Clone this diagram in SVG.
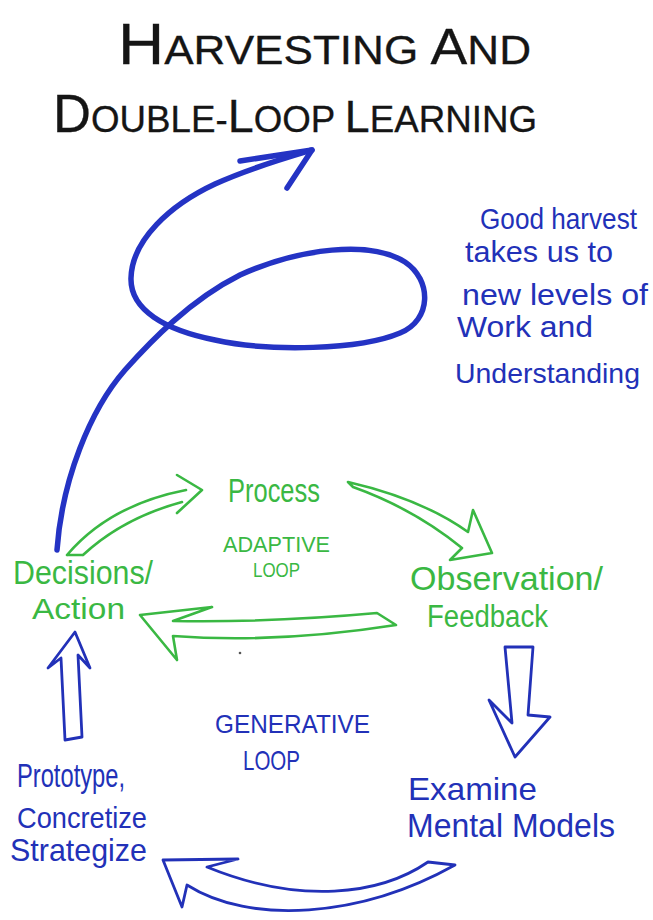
<svg xmlns="http://www.w3.org/2000/svg" width="653" height="920" viewBox="0 0 653 920">
<style>
  .title { font-family: "Liberation Sans", Arial, sans-serif; fill: #151515; stroke: #151515; stroke-width: 0.3; }
  .g { font-family: "Liberation Sans", Arial, sans-serif; fill: #3ab843; }
  .b { font-family: "Liberation Sans", Arial, sans-serif; fill: #2231b8; }
  .garrow { fill: none; stroke: #3ab843; stroke-width: 2.6; stroke-linejoin: round; stroke-linecap: round; }
  .barrow { fill: none; stroke: #2231b8; stroke-width: 2.8; stroke-linejoin: round; stroke-linecap: round; }
  .spiral { fill: none; stroke: #2433c4; stroke-width: 5.5; stroke-linecap: round; stroke-linejoin: round; }
</style>
<rect width="653" height="920" fill="#ffffff"/>

<g id="title">
  <text class="title" x="118" y="64" font-size="40" textLength="413" lengthAdjust="spacingAndGlyphs"><tspan font-size="58">H</tspan>ARVESTING <tspan font-size="50">A</tspan>ND</text>
  <text class="title" x="53" y="132" font-size="37" textLength="484" lengthAdjust="spacingAndGlyphs"><tspan font-size="53">D</tspan>OUBLE-<tspan font-size="47">L</tspan>OOP <tspan font-size="45">L</tspan>EARNING</text>
</g>

<g id="note">
  <text class="b" x="480" y="229" font-size="29" textLength="157" lengthAdjust="spacingAndGlyphs">Good harvest</text>
  <text class="b" x="465" y="262" font-size="29" textLength="148" lengthAdjust="spacingAndGlyphs">takes us to</text>
  <text class="b" x="462" y="305" font-size="29" textLength="186" lengthAdjust="spacingAndGlyphs">new levels of</text>
  <text class="b" x="457" y="337" font-size="29" textLength="136" lengthAdjust="spacingAndGlyphs">Work and</text>
  <text class="b" x="455" y="383" font-size="28" textLength="185" lengthAdjust="spacingAndGlyphs">Understanding</text>
</g>

<g id="process">
  <text class="g" x="228" y="502" font-size="33" textLength="92" lengthAdjust="spacingAndGlyphs">Process</text>
</g>
<g id="adaptive-loop">
  <text class="g" x="223" y="552" font-size="22" textLength="107" lengthAdjust="spacingAndGlyphs">ADAPTIVE</text>
  <text class="g" x="253" y="577" font-size="21" textLength="47" lengthAdjust="spacingAndGlyphs">LOOP</text>
</g>
<g id="decisions">
  <text class="g" x="13" y="584" font-size="34" textLength="140" lengthAdjust="spacingAndGlyphs">Decisions/</text>
  <text class="g" x="32" y="619" font-size="29" textLength="93" lengthAdjust="spacingAndGlyphs">Action</text>
</g>
<g id="observation">
  <text class="g" x="410" y="590" font-size="34" textLength="193" lengthAdjust="spacingAndGlyphs">Observation/</text>
  <text class="g" x="427" y="627" font-size="31" textLength="121" lengthAdjust="spacingAndGlyphs">Feedback</text>
</g>
<g id="generative-loop">
  <text class="b" x="215" y="733" font-size="26" textLength="155" lengthAdjust="spacingAndGlyphs">GENERATIVE</text>
  <text class="b" x="243" y="770" font-size="28" textLength="57" lengthAdjust="spacingAndGlyphs">LOOP</text>
</g>
<g id="prototype">
  <text class="b" x="17" y="787" font-size="34" textLength="108" lengthAdjust="spacingAndGlyphs">Prototype,</text>
  <text class="b" x="17" y="828" font-size="30" textLength="130" lengthAdjust="spacingAndGlyphs">Concretize</text>
  <text class="b" x="10" y="861" font-size="32" textLength="137" lengthAdjust="spacingAndGlyphs">Strategize</text>
</g>
<g id="examine">
  <text class="b" x="408" y="800" font-size="32" textLength="129" lengthAdjust="spacingAndGlyphs">Examine</text>
  <text class="b" x="407" y="837" font-size="34" textLength="208" lengthAdjust="spacingAndGlyphs">Mental Models</text>
</g>

<g id="connectors">
  <!-- double-loop spiral -->
  <path class="spiral" d="M57,550 C62,480 90,410 125,370 C150,342 190,300 240,275 C300,248 370,240 405,262 C432,280 432,320 400,333 C360,350 270,352 215,340 C165,330 130,310 131,278 C132,240 170,205 215,184 C250,168 285,158 312,150"/>
  <path class="spiral" d="M240,161 L312,150 L287,188"/>

  <!-- adaptive loop (green) -->
  <path class="garrow" d="M67,555 C95,522 135,500 186,490 M83,555 C110,530 145,512 182,502 M67,555 L83,555 M177,475 L202,490 L177,513"/>
  <path class="garrow" d="M348,482 C400,494 440,512 468,532 L473,510 L492,553 L450,560 L462,548 C430,522 395,502 353,487 Z"/>
  <path class="garrow" d="M377,613 C300,620 230,622 173,621 L212,607 L140,615 L177,660 L173,636 C240,641 320,637 396,625 Z"/>

  <!-- generative loop (blue) -->
  <path class="barrow" d="M505,647 L512,723 L489,700 L515,757 L550,717 L528,715 L533,647 Z"/>
  <path class="barrow" d="M428,862 C380,895 300,905 207,867 L238,859 L163,860 L182,907 L187,885 C250,925 360,918 455,865 Z"/>
  <path class="barrow" d="M65,740 L61,658 L48,668 L75,632 L90,668 L78,655 L82,737 Z"/>
</g>
<circle cx="240" cy="653" r="1.3" fill="#555"/>
</svg>
